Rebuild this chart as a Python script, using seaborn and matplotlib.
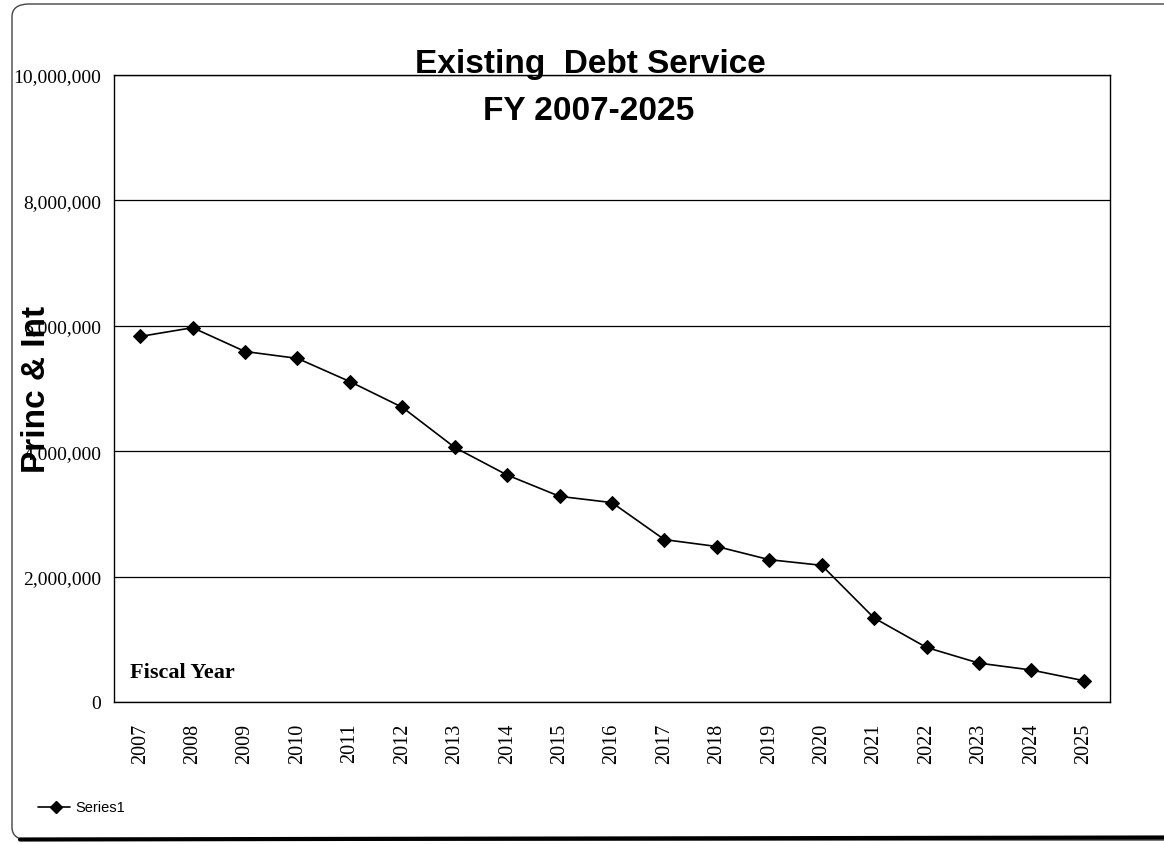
import matplotlib
matplotlib.use("Agg")
import matplotlib.pyplot as plt
import seaborn as sns
import pandas as pd
import numpy as np
from matplotlib.patches import FancyBboxPatch
from matplotlib.lines import Line2D
from matplotlib.ticker import FuncFormatter, FixedLocator

years = ["2007", "2008", "2009", "2010", "2011", "2012", "2013", "2014", "2015", "2016",
         "2017", "2018", "2019", "2020", "2021", "2022", "2023", "2024", "2025"]
debt_service = [5830000, 5970000, 5590000, 5480000, 5110000, 4700000, 4060000, 3620000,
                3280000, 3180000, 2590000, 2480000, 2270000, 2180000, 1340000, 870000,
                620000, 510000, 340000]
y_ticks = [0, 2000000, 4000000, 6000000, 8000000, 10000000]

sns.set_style("white")
plt.rcParams["text.color"] = "black"
plt.rcParams["xtick.color"] = "black"
plt.rcParams["ytick.color"] = "black"
serif = ["Liberation Serif", "DejaVu Serif"]
sans = ["Liberation Sans", "DejaVu Sans"]

df = pd.DataFrame({"Year": years, "Princ": debt_service})

fig = plt.figure(figsize=(11.64, 8.45), dpi=100)
ax = fig.add_axes([114 / 1164, 1 - 703 / 845, 996 / 1164, 627 / 845])

sns.lineplot(data=df, x="Year", y="Princ", ax=ax, color="black", lw=1.2,
             marker="D", markersize=7, markeredgecolor="black", markerfacecolor="black",
             sort=False, legend=False)

ax.set_xlim(-0.5, len(years) - 0.5)
ax.set_ylim(0, 10000000)
ax.set_yticks(y_ticks)
ax.yaxis.set_major_formatter(FuncFormatter(lambda v, p: f"{int(v):,}"))
ax.yaxis.grid(True, color="black", lw=0.9)
ax.xaxis.grid(False)

ax.set_xticks(range(len(years)))
ax.set_xticklabels(years, rotation=90, fontfamily=serif, fontsize=14.5, color="black")
ax.xaxis.set_minor_locator(FixedLocator(np.arange(-0.5, len(years), 1.0)))
ax.tick_params(axis="x", which="major", length=0, pad=15)
ax.tick_params(axis="x", which="minor", length=6, width=1, color="black", direction="out")
ax.tick_params(axis="y", which="major", length=5, width=1, color="black", direction="out",
               labelsize=14, pad=4, labelcolor="black")
for lab in ax.get_yticklabels():
    lab.set_fontfamily(serif)

for s in ax.spines.values():
    s.set_color("black")
    s.set_linewidth(1.0)

ax.set_xlabel("")
ax.set_ylabel("")

fig.text(590 / 1164, 1 - 64 / 845, "Existing  Debt Service", ha="center", va="center",
         fontsize=24, fontweight="bold", family=sans, color="black")
fig.text(589 / 1164, 1 - 111 / 845, "FY 2007-2025", ha="center", va="center",
         fontsize=24, fontweight="bold", family=sans, color="black")
fig.text(37 / 1164, 1 - 389 / 845, "Princ & Int", ha="center", va="center", rotation=90,
         fontsize=24, fontweight="bold", family=sans, color="black")
fig.text(130 / 1164, 1 - 673 / 845, "Fiscal Year", ha="left", va="center",
         fontsize=16, fontweight="bold", family=serif, color="black")

# legend
fig.lines.append(Line2D([38 / 1164, 70 / 1164], [1 - 808 / 845, 1 - 808 / 845],
                        transform=fig.transFigure, color="black", lw=1.2))
fig.lines.append(Line2D([56 / 1164], [1 - 808 / 845], transform=fig.transFigure,
                        color="black", marker="D", markersize=6, lw=0))
fig.text(75 / 1164, 1 - 808 / 845, "Series1", ha="left", va="center", fontsize=10.5,
         family=sans, color="black")

# chart border
border = FancyBboxPatch((12 / 1164, 4 / 845), 1180 / 1164, 836 / 845,
                        boxstyle="round,pad=0,rounding_size=0.015",
                        transform=fig.transFigure, fill=False, edgecolor="#444444", lw=1.0)
fig.patches.append(border)
fig.lines.append(Line2D([20 / 1164, 1.0], [4.5 / 845, 6.5 / 845], transform=fig.transFigure,
                        color="black", lw=3))

fig.savefig("out.png", dpi=100)
